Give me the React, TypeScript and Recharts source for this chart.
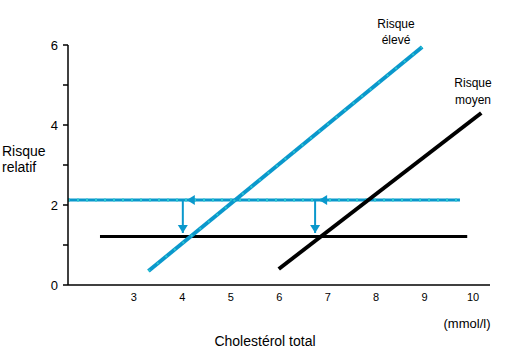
import React from "react";
import { ComposedChart, Line, XAxis, YAxis } from "recharts";

// cholesterol (mmol/l) vs relative risk
const xTicks = [3, 4, 5, 6, 7, 8, 9, 10];
const yTicks = [0, 1, 2, 3, 4, 5, 6];
const yTickLabels: Record<number, string> = { 0: "0", 2: "2", 4: "4", 6: "6" };

const highRisk = [
  { chol: 3.3, risk: 0.35 },
  { chol: 8.95, risk: 5.95 },
];
const mediumRisk = [
  { chol: 5.99, risk: 0.4 },
  { chol: 10.17, risk: 4.3 },
];
const targetLevel = [
  { chol: 1.64, risk: 2.125 },
  { chol: 9.73, risk: 2.125 },
];
const baseLevel = [
  { chol: 2.3, risk: 1.21 },
  { chol: 9.88, risk: 1.21 },
];
const arrowHigh = [
  { chol: 4.01, risk: 2.125 },
  { chol: 4.01, risk: 1.3 },
];
const arrowMedium = [
  { chol: 6.74, risk: 2.125 },
  { chol: 6.74, risk: 1.3 },
];

const BLUE = "#0a98cc";
const CYAN = "#2cc6d2";
const FONT = "'Liberation Sans', Arial, sans-serif";

function ArrowDot(props: any) {
  const { cx, cy, index } = props;
  if (cx == null || cy == null) return null;
  if (index === 1) {
    return (
      <polygon
        key={"a" + index + cx}
        points={`${cx - 5},${cy - 8} ${cx + 5},${cy - 8} ${cx},${cy}`}
        fill={BLUE}
      />
    );
  }
  return (
    <polygon
      key={"a" + index + cx}
      points={`${cx + 4},${cy} ${cx + 12},${cy - 5} ${cx + 12},${cy + 5}`}
      fill={BLUE}
    />
  );
}

export default function App() {
  return (
    <div style={{ position: "absolute", left: 0, top: 0, width: 506, height: 354, background: "#fff" }}>
      <ComposedChart
        width={506}
        height={354}
        margin={{ top: 45, right: 16, bottom: 39, left: 8 }}
      >
        <XAxis
          type="number"
          dataKey="chol"
          domain={[1.64, 10.35]}
          allowDataOverflow
          ticks={xTicks}
          interval={0}
          height={30}
          tickLine={false}
          tickSize={6}
          tickMargin={2}
          axisLine={{ stroke: "#000", strokeWidth: 1.5 }}
          tick={{ fill: "#000", fontSize: 11, fontFamily: FONT }}
        />
        <YAxis
          type="number"
          dataKey="risk"
          domain={[0, 6]}
          ticks={yTicks}
          interval={0}
          width={60}
          tickSize={5}
          tickMargin={5}
          tickFormatter={(v: number) => yTickLabels[v] ?? ""}
          axisLine={{ stroke: "#000", strokeWidth: 1.5 }}
          tickLine={{ stroke: "#000", strokeWidth: 1.5 }}
          tick={{ fill: "#000", fontSize: 13, fontFamily: FONT }}
        />
        <Line data={baseLevel} dataKey="risk" stroke="#000" strokeWidth={3} dot={false} isAnimationActive={false} />
        <Line data={targetLevel} dataKey="risk" stroke={BLUE} strokeWidth={3} dot={false} isAnimationActive={false} />
        <Line data={targetLevel} dataKey="risk" stroke={CYAN} strokeWidth={3} strokeDasharray="2 7" dot={false} isAnimationActive={false} />
        <Line data={arrowHigh} dataKey="risk" stroke={BLUE} strokeWidth={2} dot={ArrowDot} isAnimationActive={false} />
        <Line data={arrowMedium} dataKey="risk" stroke={BLUE} strokeWidth={2} dot={ArrowDot} isAnimationActive={false} />
        <Line data={highRisk} dataKey="risk" stroke={BLUE} strokeWidth={4} dot={false} isAnimationActive={false} />
        <Line data={highRisk} dataKey="risk" stroke={CYAN} strokeWidth={2} strokeDasharray="2 9" dot={false} isAnimationActive={false} />
        <Line data={mediumRisk} dataKey="risk" stroke="#000" strokeWidth={4} dot={false} isAnimationActive={false} />
      </ComposedChart>
      <svg
        width={506}
        height={354}
        style={{ position: "absolute", left: 0, top: 0, pointerEvents: "none" }}
        fontFamily={FONT}
      >
        <text x={2} y={156} fontSize={14}>Risque</text>
        <text x={2} y={172} fontSize={14}>relatif</text>
        <text x={396} y={28} fontSize={12} textAnchor="middle">Risque</text>
        <text x={396} y={44} fontSize={12} textAnchor="middle">élevé</text>
        <text x={473} y={87} fontSize={12} textAnchor="middle">Risque</text>
        <text x={473} y={104} fontSize={12} textAnchor="middle">moyen</text>
        <text x={467} y={328} fontSize={13} textAnchor="middle">(mmol/l)</text>
        <text x={265} y={346} fontSize={14} textAnchor="middle">Cholestérol total</text>
      </svg>
    </div>
  );
}
